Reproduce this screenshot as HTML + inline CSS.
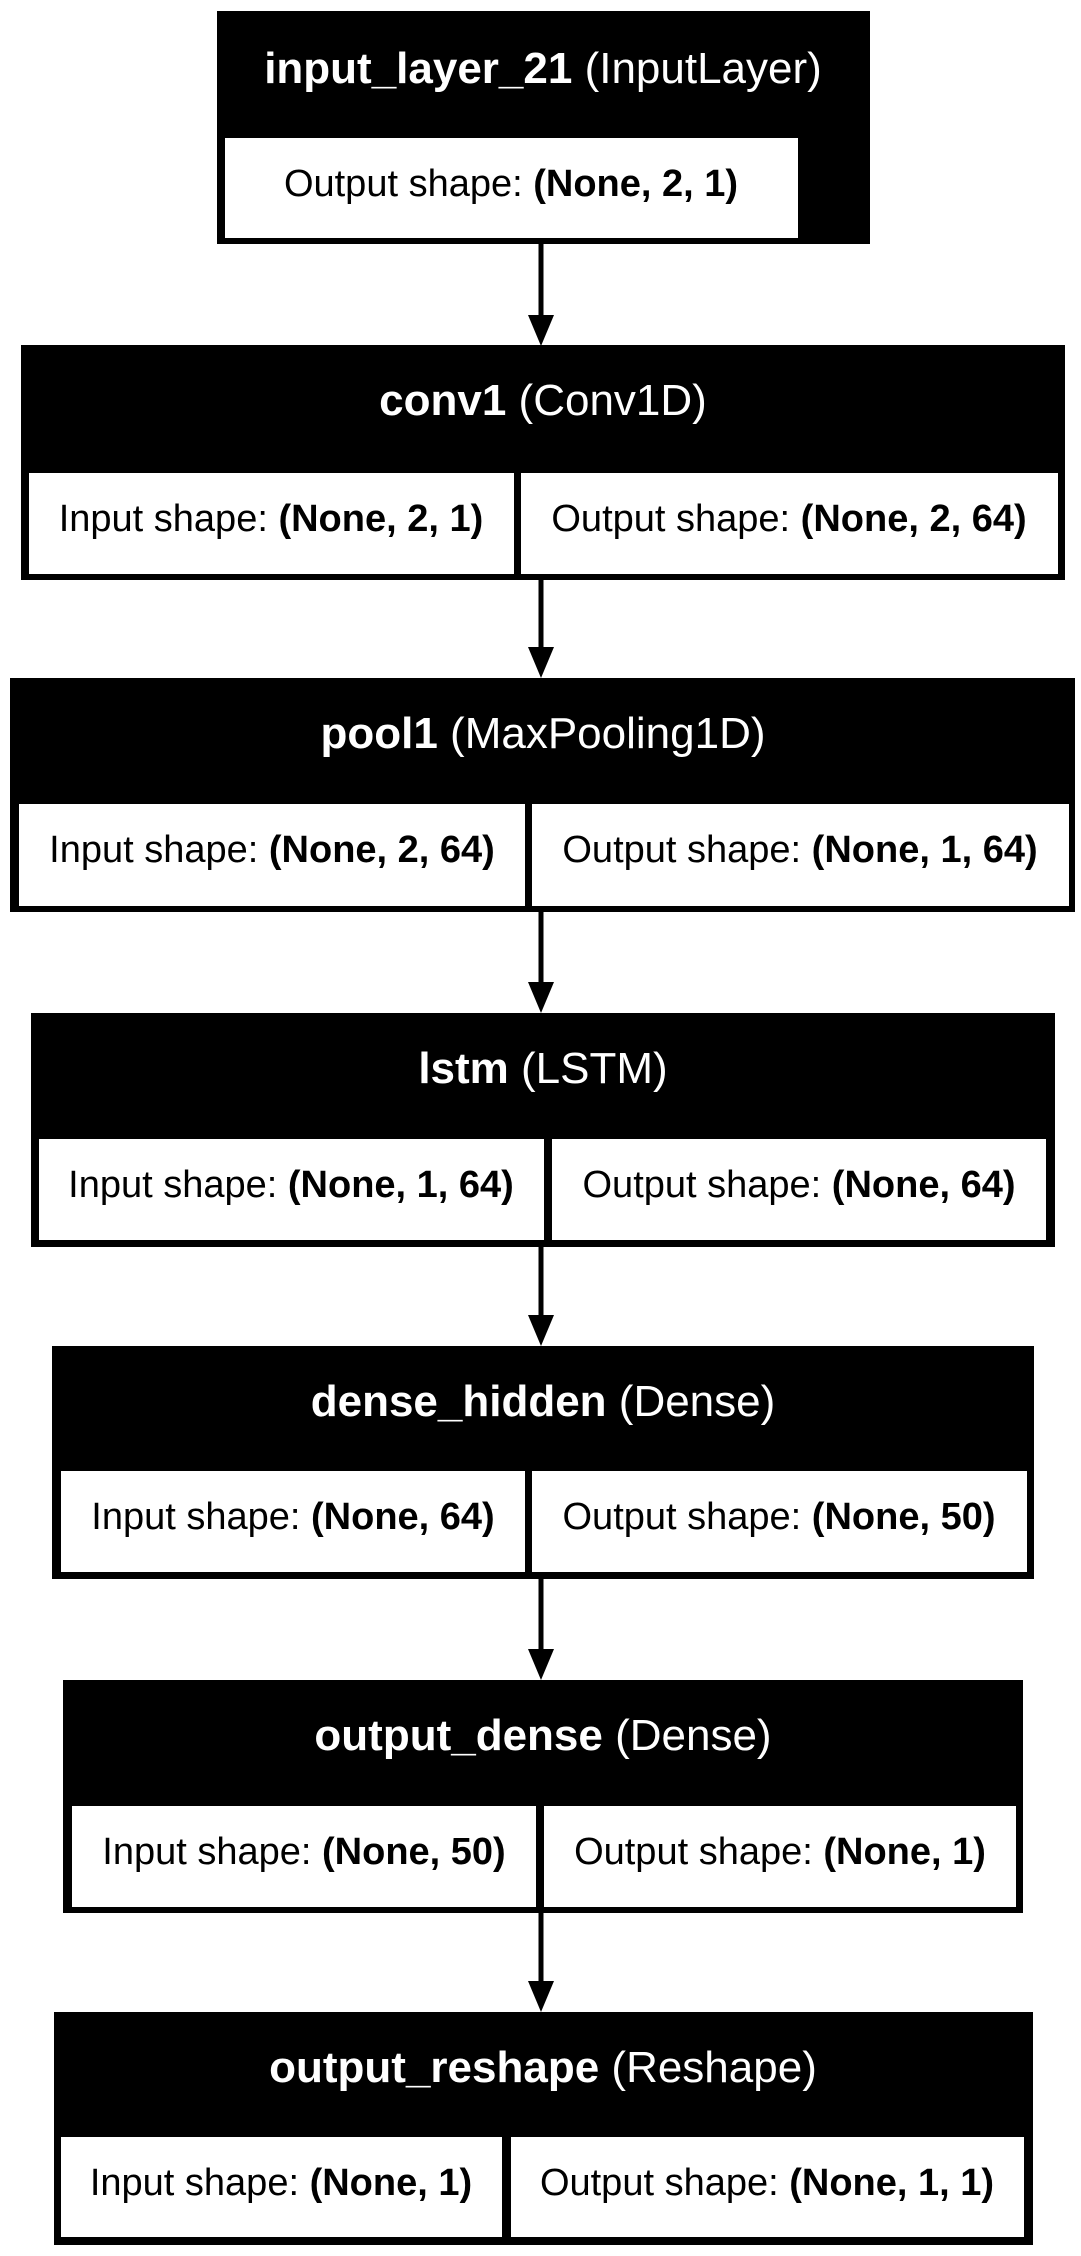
<!DOCTYPE html>
<html><head><meta charset="utf-8"><style>
html,body{margin:0;padding:0;background:#fff;}
svg{display:block;}
text{font-family:"Liberation Sans",Arial,sans-serif;}
.t{font-size:44px;fill:#fff;text-anchor:middle;}
.c{font-size:38px;fill:#000;text-anchor:middle;}
b{font-weight:bold}
</style></head><body>
<svg width="1081" height="2256" viewBox="0 0 1081 2256" xmlns="http://www.w3.org/2000/svg">
<rect width="1081" height="2256" fill="#fff"/>
<!-- box1 -->
<rect x="217" y="11" width="653" height="233" fill="#000"/>
<rect x="225" y="138" width="573" height="100" fill="#fff"/>
<text class="t" x="543" y="83"><tspan font-weight="bold">input_layer_21</tspan> (InputLayer)</text>
<text class="c" x="511" y="196">Output shape: <tspan font-weight="bold">(None, 2, 1)</tspan></text>

<!-- conv1 -->
<rect x="21" y="345" width="1044" height="235" fill="#000"/>
<rect x="29" y="473" width="485" height="101" fill="#fff"/>
<rect x="521" y="473" width="537" height="101" fill="#fff"/>
<text class="t" x="543" y="415"><tspan font-weight="bold">conv1</tspan> (Conv1D)</text>
<text class="c" x="271" y="531">Input shape: <tspan font-weight="bold">(None, 2, 1)</tspan></text>
<text class="c" x="789" y="531">Output shape: <tspan font-weight="bold">(None, 2, 64)</tspan></text>

<!-- pool1 -->
<rect x="10" y="678" width="1065" height="234" fill="#000"/>
<rect x="19" y="804" width="506" height="102" fill="#fff"/>
<rect x="532" y="804" width="537" height="102" fill="#fff"/>
<text class="t" x="543" y="748"><tspan font-weight="bold">pool1</tspan> (MaxPooling1D)</text>
<text class="c" x="272" y="862">Input shape: <tspan font-weight="bold">(None, 2, 64)</tspan></text>
<text class="c" x="800" y="862">Output shape: <tspan font-weight="bold">(None, 1, 64)</tspan></text>

<!-- lstm -->
<rect x="31" y="1013" width="1024" height="234" fill="#000"/>
<rect x="39" y="1139" width="505" height="101" fill="#fff"/>
<rect x="552" y="1139" width="494" height="101" fill="#fff"/>
<text class="t" x="543" y="1083"><tspan font-weight="bold">lstm</tspan> (LSTM)</text>
<text class="c" x="291" y="1197">Input shape: <tspan font-weight="bold">(None, 1, 64)</tspan></text>
<text class="c" x="799" y="1197">Output shape: <tspan font-weight="bold">(None, 64)</tspan></text>

<!-- dense_hidden -->
<rect x="52" y="1346" width="982" height="233" fill="#000"/>
<rect x="61" y="1471" width="464" height="101" fill="#fff"/>
<rect x="532" y="1471" width="495" height="101" fill="#fff"/>
<text class="t" x="543" y="1416"><tspan font-weight="bold">dense_hidden</tspan> (Dense)</text>
<text class="c" x="293" y="1529">Input shape: <tspan font-weight="bold">(None, 64)</tspan></text>
<text class="c" x="779" y="1529">Output shape: <tspan font-weight="bold">(None, 50)</tspan></text>

<!-- output_dense -->
<rect x="63" y="1680" width="960" height="233" fill="#000"/>
<rect x="72" y="1806" width="464" height="101" fill="#fff"/>
<rect x="544" y="1806" width="472" height="101" fill="#fff"/>
<text class="t" x="543" y="1750"><tspan font-weight="bold">output_dense</tspan> (Dense)</text>
<text class="c" x="304" y="1864">Input shape: <tspan font-weight="bold">(None, 50)</tspan></text>
<text class="c" x="780" y="1864">Output shape: <tspan font-weight="bold">(None, 1)</tspan></text>

<!-- output_reshape -->
<rect x="54" y="2012" width="979" height="233" fill="#000"/>
<rect x="61" y="2137" width="441" height="100" fill="#fff"/>
<rect x="511" y="2137" width="513" height="100" fill="#fff"/>
<text class="t" x="543" y="2082"><tspan font-weight="bold">output_reshape</tspan> (Reshape)</text>
<text class="c" x="281" y="2195">Input shape: <tspan font-weight="bold">(None, 1)</tspan></text>
<text class="c" x="767" y="2195">Output shape: <tspan font-weight="bold">(None, 1, 1)</tspan></text>

<!-- arrows -->
<g fill="#000" stroke="none">
<rect x="538.5" y="244" width="5" height="72"/><polygon points="528,315 554,315 541,346"/>
<rect x="538.5" y="580" width="5" height="68"/><polygon points="528,647 554,647 541,678"/>
<rect x="538.5" y="912" width="5" height="71"/><polygon points="528,982 554,982 541,1013"/>
<rect x="538.5" y="1247" width="5" height="69"/><polygon points="528,1315 554,1315 541,1346"/>
<rect x="538.5" y="1579" width="5" height="71"/><polygon points="528,1649 554,1649 541,1680"/>
<rect x="538.5" y="1913" width="5" height="69"/><polygon points="528,1981 554,1981 541,2012"/>
</g>
</svg>
</body></html>
